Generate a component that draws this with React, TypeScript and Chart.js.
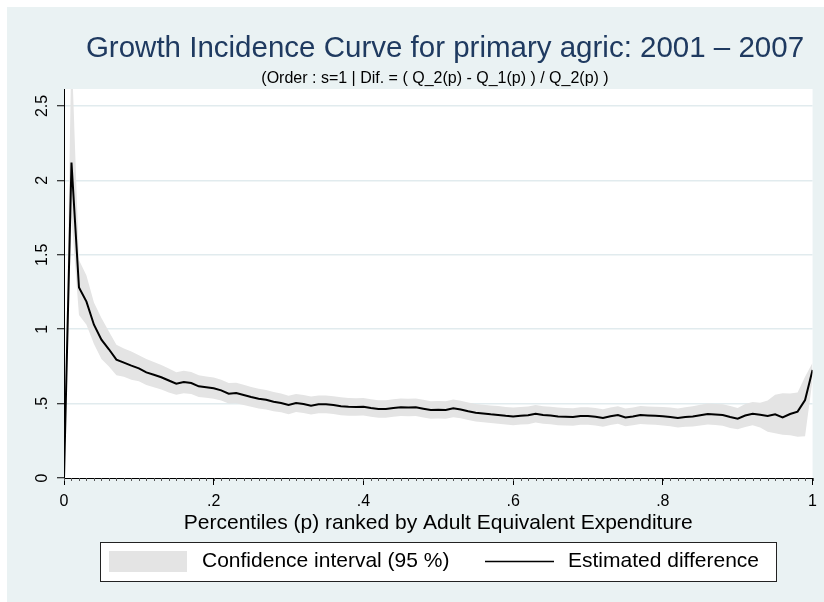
import { useEffect, useRef } from "react";
import { Chart, registerables } from "chart.js";

Chart.register(...registerables);

const FONT = '"Liberation Sans", Arial, sans-serif';

const PERCENTILES = [
  0, 0.01, 0.02, 0.03, 0.04, 0.05, 0.06, 0.07, 0.08, 0.09,
  0.1, 0.11, 0.12, 0.13, 0.14, 0.15, 0.16, 0.17, 0.18, 0.19,
  0.2, 0.21, 0.22, 0.23, 0.24, 0.25, 0.26, 0.27, 0.28, 0.29,
  0.3, 0.31, 0.32, 0.33, 0.34, 0.35, 0.36, 0.37, 0.38, 0.39,
  0.4, 0.41, 0.42, 0.43, 0.44, 0.45, 0.46, 0.47, 0.48, 0.49,
  0.5, 0.51, 0.52, 0.53, 0.54, 0.55, 0.56, 0.57, 0.58, 0.59,
  0.6, 0.61, 0.62, 0.63, 0.64, 0.65, 0.66, 0.67, 0.68, 0.69,
  0.7, 0.71, 0.72, 0.73, 0.74, 0.75, 0.76, 0.77, 0.78, 0.79,
  0.8, 0.81, 0.82, 0.83, 0.84, 0.85, 0.86, 0.87, 0.88, 0.89,
  0.9, 0.91, 0.92, 0.93, 0.94, 0.95, 0.96, 0.97, 0.98, 0.99,
  1,
];

const ESTIMATE = [
  0, 2.12, 1.28, 1.185, 1.03, 0.93, 0.865, 0.795, 0.775, 0.755,
  0.737, 0.71, 0.694, 0.677, 0.655, 0.634, 0.645, 0.638, 0.616, 0.61,
  0.603, 0.589, 0.567, 0.571, 0.558, 0.544, 0.533, 0.526, 0.513, 0.504,
  0.49, 0.504, 0.497, 0.486, 0.495, 0.495, 0.49, 0.482, 0.478, 0.477,
  0.479, 0.47, 0.464, 0.464, 0.47, 0.475, 0.474, 0.476, 0.466, 0.457,
  0.458, 0.457, 0.468, 0.46, 0.448, 0.439, 0.434, 0.428, 0.424, 0.418,
  0.414, 0.418, 0.421, 0.432, 0.423, 0.42, 0.414, 0.412, 0.41, 0.417,
  0.417, 0.412, 0.403, 0.415, 0.423, 0.407, 0.414, 0.423, 0.42, 0.418,
  0.415, 0.41, 0.403, 0.41, 0.414, 0.422, 0.43, 0.427, 0.423, 0.41,
  0.399, 0.42, 0.432, 0.425, 0.417, 0.428, 0.407, 0.43, 0.446, 0.524,
  0.726,
];

const CI_UPPER = [
  0, 2.9, 1.465, 1.36, 1.18, 1.075, 0.985, 0.895, 0.87, 0.85,
  0.825, 0.8, 0.78, 0.76, 0.735, 0.71, 0.72, 0.712, 0.69, 0.682,
  0.675, 0.66, 0.638, 0.64, 0.627, 0.612, 0.6, 0.592, 0.578, 0.568,
  0.553, 0.565, 0.558, 0.547, 0.555, 0.555, 0.55, 0.542, 0.537, 0.536,
  0.538, 0.529, 0.523, 0.523, 0.529, 0.534, 0.533, 0.535, 0.525, 0.516,
  0.517, 0.516, 0.527, 0.519, 0.507, 0.498, 0.493, 0.487, 0.483, 0.477,
  0.473, 0.477, 0.48, 0.491, 0.482, 0.479, 0.473, 0.471, 0.469, 0.476,
  0.476, 0.471, 0.462, 0.474, 0.482, 0.467, 0.474, 0.483, 0.481, 0.479,
  0.477, 0.473, 0.467, 0.476, 0.482, 0.492, 0.5, 0.498, 0.495, 0.484,
  0.47, 0.497, 0.51, 0.505, 0.52, 0.56, 0.57, 0.568, 0.575, 0.68,
  0.775,
];

const CI_LOWER = [
  0, 1.75, 1.095, 1.03, 0.9, 0.8, 0.75, 0.69, 0.68, 0.66,
  0.65, 0.625, 0.61, 0.595, 0.575, 0.56, 0.57, 0.565, 0.545, 0.54,
  0.533, 0.52, 0.5, 0.503, 0.49, 0.478, 0.467, 0.461, 0.449, 0.441,
  0.428, 0.443, 0.436, 0.426, 0.435, 0.435, 0.43, 0.422, 0.419, 0.418,
  0.42, 0.411, 0.405, 0.405, 0.411, 0.416, 0.415, 0.417, 0.407, 0.398,
  0.399, 0.398, 0.409, 0.401, 0.389, 0.38, 0.375, 0.369, 0.365, 0.359,
  0.355, 0.359, 0.362, 0.373, 0.364, 0.361, 0.355, 0.353, 0.351, 0.358,
  0.358, 0.353, 0.344, 0.356, 0.364, 0.347, 0.354, 0.363, 0.359, 0.357,
  0.353, 0.347, 0.339, 0.344, 0.346, 0.352, 0.36, 0.356, 0.351, 0.336,
  0.328, 0.343, 0.354, 0.34, 0.31, 0.3, 0.29, 0.288, 0.278, 0.28,
  0.66,
];

const X_TICKS = [0, 0.2, 0.4, 0.6, 0.8, 1];
const X_TICK_LABELS = ["0", ".2", ".4", ".6", ".8", "1"];
const Y_TICKS = [0, 0.5, 1, 1.5, 2, 2.5];
const Y_TICK_LABELS = ["0", ".5", "1", "1.5", "2", "2.5"];

const TITLE = "Growth Incidence Curve for primary agric: 2001 \u2013 2007";
const SUBTITLE = "(Order : s=1 | Dif. = ( Q_2(p) - Q_1(p) ) / Q_2(p) )";
const X_TITLE = "Percentiles (p) ranked by Adult Equivalent Expenditure";
const LEGEND_BAND = "Confidence interval (95 %)";
const LEGEND_LINE = "Estimated difference";

const BG = "#eaf2f3";
const GRID = "#e1ebee";
const BAND = "#e4e4e4";
const TITLE_COLOR = "#1f3a60";

const W = 817;
const H = 595;

const decorPlugin = {
  id: "stataDecor",
  beforeDraw(chart: any) {
    const { ctx, chartArea } = chart;
    ctx.save();
    ctx.fillStyle = "#ffffff";
    ctx.fillRect(chartArea.left, chartArea.top, chartArea.right - chartArea.left, chartArea.bottom - chartArea.top);
    ctx.restore();
  },
  afterDraw(chart: any) {
    const { ctx, chartArea } = chart;
    const xs = chart.scales.x;
    const ys = chart.scales.y;
    ctx.save();

    // minor ticks at every percentile along the x axis
    ctx.strokeStyle = "#555";
    ctx.lineWidth = 1;
    ctx.beginPath();
    for (const p of PERCENTILES) {
      const px = Math.round(xs.getPixelForValue(p)) + 0.5;
      ctx.moveTo(px, chartArea.bottom);
      ctx.lineTo(px, chartArea.bottom + 3);
    }
    ctx.stroke();

    // rotated y tick labels
    ctx.fillStyle = "#000";
    ctx.font = `16px ${FONT}`;
    ctx.textAlign = "center";
    ctx.textBaseline = "middle";
    Y_TICKS.forEach((v, i) => {
      const py = ys.getPixelForValue(v);
      ctx.save();
      ctx.translate(35.5, py);
      ctx.rotate(-Math.PI / 2);
      ctx.fillText(Y_TICK_LABELS[i], 0, 0);
      ctx.restore();
    });

    // titles
    ctx.textBaseline = "alphabetic";
    ctx.fillStyle = TITLE_COLOR;
    ctx.font = `29.5px ${FONT}`;
    ctx.fillText(TITLE, 438, 50);
    ctx.fillStyle = "#000";
    ctx.font = `16px ${FONT}`;
    ctx.fillText(SUBTITLE, 428, 76);

    // x axis title
    ctx.font = `21px ${FONT}`;
    ctx.fillText(X_TITLE, (chartArea.left + chartArea.right) / 2, 522);

    // legend
    const bx = 93, by = 535, bw = 676, bh = 39;
    ctx.fillStyle = "#ffffff";
    ctx.fillRect(bx, by, bw, bh);
    ctx.strokeStyle = "#222";
    ctx.lineWidth = 1;
    ctx.strokeRect(bx + 0.5, by + 0.5, bw, bh);
    const cy = by + bh / 2;
    ctx.fillStyle = BAND;
    ctx.fillRect(102, by + 9, 78, 21);
    ctx.strokeStyle = "#000";
    ctx.lineWidth = 1.6;
    ctx.beginPath();
    ctx.moveTo(478, cy);
    ctx.lineTo(547, cy);
    ctx.stroke();
    ctx.fillStyle = "#000";
    ctx.font = `21px ${FONT}`;
    ctx.textAlign = "left";
    ctx.textBaseline = "middle";
    ctx.fillText(LEGEND_BAND, 195, cy);
    ctx.fillText(LEGEND_LINE, 561, cy);

    ctx.restore();
  },
};

export default function App() {
  const canvasRef = useRef<HTMLCanvasElement | null>(null);

  useEffect(() => {
    const canvas = canvasRef.current;
    if (!canvas) return;
    const toPoints = (ys: number[]) => PERCENTILES.map((p, i) => ({ x: p, y: ys[i] }));

    const chart = new Chart(canvas, {
      type: "line",
      data: {
        datasets: [
          {
            label: LEGEND_BAND,
            data: toPoints(CI_UPPER),
            order: 1,
            borderColor: "rgba(0,0,0,0)",
            borderWidth: 0,
            backgroundColor: BAND,
            fill: "+1",
            pointRadius: 0,
            tension: 0,
          },
          {
            label: "lower",
            data: toPoints(CI_LOWER),
            order: 2,
            borderColor: "rgba(0,0,0,0)",
            borderWidth: 0,
            backgroundColor: BAND,
            fill: false,
            pointRadius: 0,
            tension: 0,
          },
          {
            label: LEGEND_LINE,
            data: toPoints(ESTIMATE),
            order: 0,
            borderColor: "#000",
            borderWidth: 2,
            fill: false,
            pointRadius: 0,
            tension: 0,
          },
        ],
      },
      options: {
        responsive: false,
        animation: false,
        devicePixelRatio: 1,
        layout: { padding: { left: 0, right: 11, top: 82, bottom: 60 } },
        plugins: {
          legend: { display: false },
          title: { display: false },
          tooltip: { enabled: false },
        },
        scales: {
          x: {
            type: "linear",
            min: 0,
            max: 1,
            afterBuildTicks: (s: any) => {
              s.ticks = X_TICKS.map((v) => ({ value: v }));
            },
            afterFit: (s: any) => {
              s.height = 64;
            },
            ticks: {
              color: "#000",
              font: { family: FONT, size: 16 },
              padding: 7,
              maxRotation: 0,
              callback: (_v: any, i: number) => X_TICK_LABELS[i],
            },
            grid: {
              drawOnChartArea: false,
              drawTicks: true,
              tickLength: 7,
              tickColor: "#000",
            },
            border: { color: "#000", width: 1 },
          },
          y: {
            type: "linear",
            min: 0,
            max: 2.614,
            afterBuildTicks: (s: any) => {
              s.ticks = Y_TICKS.map((v) => ({ value: v }));
            },
            afterFit: (s: any) => {
              s.width = 57;
            },
            ticks: { display: false },
            grid: {
              color: (c: any) => (c.tick && c.tick.value === 0 ? "rgba(0,0,0,0)" : GRID),
              lineWidth: 1.5,
              drawTicks: true,
              tickLength: 7,
              tickColor: "#000",
              tickWidth: 1,
            },
            border: { color: "#000", width: 1 },
          },
        },
      },
      plugins: [decorPlugin],
    } as any);

    return () => chart.destroy();
  }, []);

  return (
    <div style={{ position: "fixed", left: 7, top: 7, width: W, height: H, background: BG }}>
      <canvas ref={canvasRef} width={W} height={H} style={{ width: W, height: H, display: "block" }} />
    </div>
  );
}
